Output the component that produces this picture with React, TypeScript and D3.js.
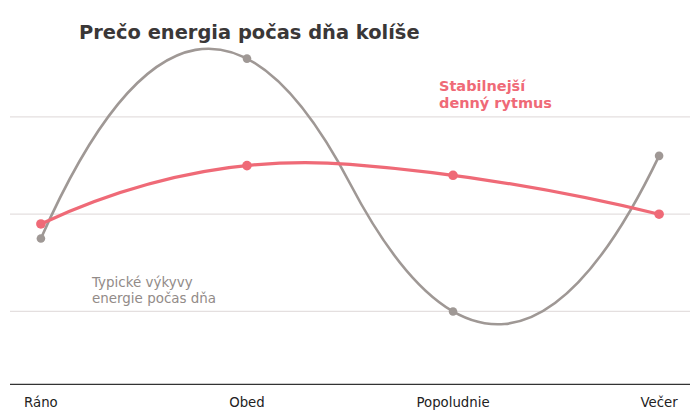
import React from "react";
import * as d3 from "d3";

const categories = ["Ráno", "Obed", "Popoludnie", "Večer"];
const typicalValues = [5.5, 9.2, 4.0, 7.2];
const stableValues = [5.8, 7.0, 6.8, 6.0];
const gridTicks = [4, 6, 8];
const yDomain: [number, number] = [2.5, 10];

const title = "Prečo energia počas dňa kolíše";
const stableLabel = ["Stabilnejší", "denný rytmus"];
const typicalLabel = ["Typické výkyvy", "energie počas dňa"];

const W = 700;
const H = 420;
const GRAY = "#9f9895";
const GRAY_TEXT = "#928b88";
const RED = "#ef6a77";
const FONT = "DejaVu Sans, sans-serif";

// Quadratic interpolating spline (knots at midpoints), emitted as quadratic Béziers
function solve(A: number[][], b: number[]): number[] {
  const n = b.length;
  const M = A.map((r, i) => [...r, b[i]]);
  for (let c = 0; c < n; c++) {
    let p = c;
    for (let r = c + 1; r < n; r++) if (Math.abs(M[r][c]) > Math.abs(M[p][c])) p = r;
    [M[c], M[p]] = [M[p], M[c]];
    for (let r = 0; r < n; r++) {
      if (r === c) continue;
      const f = M[r][c] / M[c][c];
      for (let k = c; k <= n; k++) M[r][k] -= f * M[c][k];
    }
  }
  return M.map((r, i) => r[n] / r[i]);
}

function quadSpline(context: any) {
  let pts: [number, number][] = [];
  return {
    areaStart() {},
    areaEnd() {},
    lineStart() {
      pts = [];
    },
    point(x: number, y: number) {
      pts.push([+x, +y]);
    },
    lineEnd() {
      const n = pts.length;
      if (n < 3) {
        pts.forEach((p, i) => (i ? context.lineTo(p[0], p[1]) : context.moveTo(p[0], p[1])));
        return;
      }
      const xs = pts.map((p) => p[0]);
      const knots = [xs[0]];
      for (let i = 1; i <= n - 3; i++) knots.push((xs[i] + xs[i + 1]) / 2);
      knots.push(xs[n - 1]);
      const m = knots.length - 1; // pieces
      const N = 3 * m;
      const A: number[][] = [];
      const b: number[] = [];
      const row = () => new Array(N).fill(0);
      const pieceOf = (x: number) => {
        for (let j = 0; j < m; j++) if (x <= knots[j + 1] + 1e-9) return j;
        return m - 1;
      };
      pts.forEach(([x, y]) => {
        const j = pieceOf(x);
        const d = x - knots[j];
        const r = row();
        r[3 * j] = 1;
        r[3 * j + 1] = d;
        r[3 * j + 2] = d * d;
        A.push(r);
        b.push(y);
      });
      for (let j = 0; j < m - 1; j++) {
        const d = knots[j + 1] - knots[j];
        const r0 = row();
        r0[3 * j] = 1;
        r0[3 * j + 1] = d;
        r0[3 * j + 2] = d * d;
        r0[3 * (j + 1)] = -1;
        A.push(r0);
        b.push(0);
        const r1 = row();
        r1[3 * j + 1] = 1;
        r1[3 * j + 2] = 2 * d;
        r1[3 * (j + 1) + 1] = -1;
        A.push(r1);
        b.push(0);
      }
      const c = solve(A, b);
      context.moveTo(knots[0], c[0]);
      for (let j = 0; j < m; j++) {
        const a = knots[j];
        const e = knots[j + 1];
        const d = e - a;
        const p = c[3 * j], q = c[3 * j + 1], s = c[3 * j + 2];
        const yEnd = p + q * d + s * d * d;
        context.quadraticCurveTo(a + d / 2, p + (q * d) / 2, e, yEnd);
      }
    },
  };
}

export default function App() {
  const x = d3.scalePoint<string>().domain(categories).range([10, 690]).padding(0.15);
  const y = d3.scaleLinear().domain(yDomain).range([384.4, 19.7]);

  const line = d3
    .line<number>()
    .x((_, i) => x(categories[i]) as number)
    .y((d) => y(d))
    .curve(quadSpline as any);

  return (
    <svg
      width={W}
      height={H}
      style={{ position: "absolute", left: 0, top: 0, background: "#fff" }}
      fontFamily={FONT}
    >
      {gridTicks.map((t) => (
        <line key={t} x1={10} x2={690} y1={y(t)} y2={y(t)} stroke="#e4dfdf" strokeWidth={1.2} />
      ))}
      <line x1={10} x2={690} y1={y(yDomain[0])} y2={y(yDomain[0])} stroke="#333" strokeWidth={1.3} />
      {categories.map((c) => (
        <text key={c} x={x(c)} y={406.5} textAnchor="middle" fontSize={13.3} fill="#222">
          {c}
        </text>
      ))}

      <path d={line(typicalValues) || ""} fill="none" stroke={GRAY} strokeWidth={2.6} />
      {typicalValues.map((v, i) => (
        <circle key={i} cx={x(categories[i])} cy={y(v)} r={4.3} fill={GRAY} />
      ))}

      <path d={line(stableValues) || ""} fill="none" stroke={RED} strokeWidth={3.2} />
      {stableValues.map((v, i) => (
        <circle key={i} cx={x(categories[i])} cy={y(v)} r={4.8} fill={RED} />
      ))}

      <text x={79} y={38.5} fontSize={19.45} fontWeight="bold" fill="#3a3737">
        {title}
      </text>

      <text fontSize={14.5} fontWeight="bold" fill={RED}>
        {stableLabel.map((s, i) => (
          <tspan key={i} x={439} y={90.7 + i * 17.5}>
            {s}
          </tspan>
        ))}
      </text>

      <text fontSize={13.45} fill={GRAY_TEXT}>
        {typicalLabel.map((s, i) => (
          <tspan key={i} x={92} y={287 + i * 16}>
            {s}
          </tspan>
        ))}
      </text>
    </svg>
  );
}
